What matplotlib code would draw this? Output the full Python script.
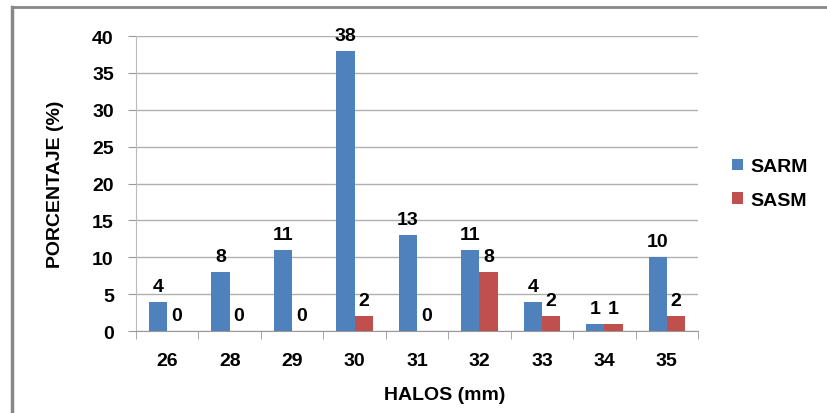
import matplotlib.pyplot as plt
import numpy as np

halos = ["26", "28", "29", "30", "31", "32", "33", "34", "35"]
sarm = [4, 8, 11, 38, 13, 11, 4, 1, 10]
sasm = [0, 0, 0, 2, 0, 8, 2, 1, 2]

blue = "#4F81BD"
red = "#C0504D"
fs = 14
plt.rcParams['font.family'] = ['Liberation Sans', 'DejaVu Sans']

fig = plt.figure(figsize=(8.27, 4.14), dpi=100)
ax = fig.add_axes([0.1645, 0.198, 0.6795, 0.7126])

x = np.arange(len(halos))
w = 0.292
b1 = ax.bar(x - w / 2, sarm, w, color=blue, label="SARM", zorder=3)
b2 = ax.bar(x + w / 2, sasm, w, color=red, label="SASM", zorder=3)
for bars in (b1, b2):
    ax.bar_label(bars, padding=5, fontsize=fs, fontweight='bold')

ax.set_xlim(-0.5, len(halos) - 0.5)
ax.set_ylim(0, 40)
ax.set_yticks(range(0, 41, 5))
ax.yaxis.grid(True, color="#b0b0b0", linewidth=1, zorder=0)
ax.set_xticks(x)
ax.set_xticklabels(halos)
ax.set_xticks(np.arange(-0.5, len(halos), 1), minor=True)
ax.tick_params(axis='x', which='major', length=0, pad=15, labelsize=fs)
ax.tick_params(axis='x', which='minor', length=6, color="#999999")
ax.tick_params(axis='y', length=6, color="#999999", labelsize=fs, pad=10)
for lab in ax.get_xticklabels() + ax.get_yticklabels():
    lab.set_fontweight('bold')

for s in ("top", "right"):
    ax.spines[s].set_visible(False)
ax.spines["left"].set_color("#bbbbbb")
ax.spines["bottom"].set_color("#999999")

ax.set_ylabel("PORCENTAJE (%)", fontsize=fs, fontweight='bold', labelpad=20)
fig.text(0.538, 0.045, "HALOS (mm)", ha='center', va='center', fontsize=fs, fontweight='bold')

ax.legend(loc='center left', bbox_to_anchor=(1.03, 0.5), frameon=False,
          prop={'weight': 'bold', 'size': fs},
          handlelength=0.55, handleheight=0.55, handletextpad=0.4, labelspacing=0.85)

# outer chart frame (left and top only, as in the reference)
fig.add_artist(plt.Line2D([0.0145, 0.0145], [0, 0.981], color="#888888", linewidth=2.5))
fig.add_artist(plt.Line2D([0.0145, 1], [0.981, 0.981], color="#888888", linewidth=2))

fig.savefig("out.png", dpi=100)
